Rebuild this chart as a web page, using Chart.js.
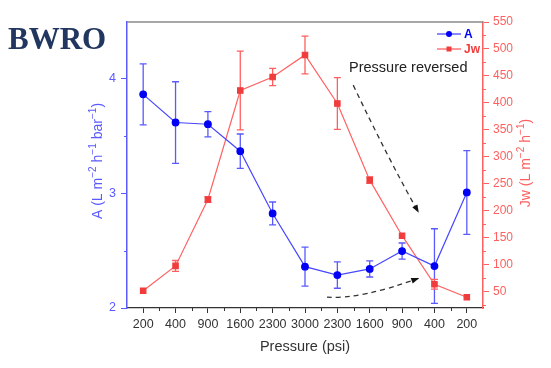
<!DOCTYPE html>
<html><head><meta charset="utf-8">
<script src="https://cdn.jsdelivr.net/npm/chart.js@4"></script>
<style>html,body{margin:0;padding:0;background:#fff;}</style>
</head><body>
<canvas id="c" width="551" height="368"></canvas>
<script>
// ---- data ----
const categories = ['200','400','900','1600','2300','3000','2300','1600','900','400','200'];
const aValues  = [3.86, 3.615, 3.60, 3.365, 2.823, 2.36, 2.287, 2.34, 2.496, 2.365, 3.006];
const aErrors  = [0.265, 0.355, 0.11, 0.15, 0.10, 0.17, 0.115, 0.07, 0.07, 0.325, 0.365];
const jwValues = [52, 98, 221, 423, 448, 489, 399, 257, 154, 64, 40];
const jwErrors = [0, 10, 5, 73, 16, 35, 48, 6, 0, 9, 0];
const aTicks = [2, 3, 4];
const aMinorTicks = [2.5, 3.5];
const jwTicks = [50, 100, 150, 200, 250, 300, 350, 400, 450, 500, 550];
const jwMinorTicks = [25, 75, 125, 175, 225, 275, 325, 375, 425, 475, 525];
const titleText = 'BWRO';
const xTitle = 'Pressure (psi)';
const annotationText = 'Pressure reversed';
// annotation anchors in data coordinates (x = category index, y = Jw value)
const arrowDown = {from: [6.49, 433], ctrl: [7.57, 297], to: [8.5, 198]};
const arrowUp   = {from: [5.68, 40], ctrl: [6.73, 36], to: [8.5, 75]};
const annotationAt = [8.19, 464];

const FONT = '"Liberation Sans", Arial, sans-serif';
const BLUE = '#0000f5', BLUE_LINE = '#4848ff', BLUE_AX = '#5a5aff';
const RED = '#f03c3c', RED_LINE = '#ff6262', RED_AX = '#ff5f5f';
const GREY = '#333333';

function drawRich(ctx, segs, cx, cy, size, color) {
  ctx.save();
  ctx.translate(cx, cy);
  ctx.rotate(-Math.PI / 2);
  ctx.fillStyle = color;
  ctx.textBaseline = 'alphabetic';
  let total = 0;
  segs.forEach(s => { ctx.font = (s.sup ? size * 0.72 : size) + 'px ' + FONT; s.w = ctx.measureText(s.t).width; total += s.w; });
  let x = -total / 2;
  const base = size * 0.36;
  segs.forEach(s => {
    ctx.font = (s.sup ? size * 0.72 : size) + 'px ' + FONT;
    ctx.fillText(s.t, x, s.sup ? base - size * 0.42 : base);
    x += s.w;
  });
  ctx.restore();
}

const errorBars = {
  id: 'errorBars',
  beforeDatasetsDraw(chart) {
    const ctx = chart.ctx, xs = chart.scales.x;
    chart.data.datasets.forEach(ds => {
      const ys = chart.scales[ds.yAxisID];
      ctx.save();
      ctx.strokeStyle = ds.errColor;
      ctx.lineWidth = 1.3;
      ds.data.forEach((v, i) => {
        const e = ds.errors[i];
        if (!e) return;
        const px = xs.getPixelForValue(i);
        const t = ys.getPixelForValue(v + e), b = ys.getPixelForValue(v - e);
        ctx.beginPath();
        ctx.moveTo(px, t); ctx.lineTo(px, b);
        ctx.moveTo(px - 3.5, t); ctx.lineTo(px + 3.5, t);
        ctx.moveTo(px - 3.5, b); ctx.lineTo(px + 3.5, b);
        ctx.stroke();
      });
      ctx.restore();
    });
  }
};

function drawArrow(ctx, chart, def) {
  const xs = chart.scales.x, ys = chart.scales.yJ;
  const P = p => [xs.getPixelForValue(p[0]), ys.getPixelForValue(p[1])];
  const a = P(def.from), c = P(def.ctrl), b = P(def.to);
  ctx.save();
  ctx.strokeStyle = '#333';
  ctx.lineWidth = 1.3;
  ctx.setLineDash([5, 4]);
  ctx.beginPath();
  ctx.moveTo(a[0], a[1]);
  ctx.quadraticCurveTo(c[0], c[1], b[0], b[1]);
  ctx.stroke();
  ctx.setLineDash([]);
  const ang = Math.atan2(b[1] - c[1], b[0] - c[0]);
  ctx.fillStyle = '#111';
  ctx.translate(b[0], b[1]);
  ctx.rotate(ang);
  ctx.beginPath();
  ctx.moveTo(1, 0); ctx.lineTo(-7, -3); ctx.lineTo(-7, 3); ctx.closePath();
  ctx.fill();
  ctx.restore();
}

const decorations = {
  id: 'decorations',
  afterDatasetsDraw(chart) {
    const ctx = chart.ctx;
    drawArrow(ctx, chart, arrowDown);
    drawArrow(ctx, chart, arrowUp);
    const xs = chart.scales.x, ys = chart.scales.yJ;
    ctx.save();
    ctx.font = '14.5px ' + FONT;
    ctx.fillStyle = '#222';
    ctx.textAlign = 'center';
    ctx.textBaseline = 'middle';
    ctx.fillText(annotationText, xs.getPixelForValue(annotationAt[0]), ys.getPixelForValue(annotationAt[1]));
    ctx.restore();
  },
  afterDraw(chart) {
    const ctx = chart.ctx, ca = chart.chartArea;
    const xs = chart.scales.x, yA = chart.scales.yA, yJ = chart.scales.yJ;
    ctx.save();
    // top frame line
    ctx.strokeStyle = '#8a8a8a';
    ctx.lineWidth = 1.6;
    ctx.beginPath(); ctx.moveTo(ca.left, ca.top); ctx.lineTo(ca.right, ca.top); ctx.stroke();
    // minor ticks
    ctx.lineWidth = 1;
    ctx.strokeStyle = BLUE_AX;
    aMinorTicks.forEach(v => { const y = Math.round(yA.getPixelForValue(v)) + 0.5; ctx.beginPath(); ctx.moveTo(ca.left - 3, y); ctx.lineTo(ca.left, y); ctx.stroke(); });
    ctx.strokeStyle = RED_AX;
    jwMinorTicks.forEach(v => { const y = Math.round(yJ.getPixelForValue(v)) + 0.5; ctx.beginPath(); ctx.moveTo(ca.right, y); ctx.lineTo(ca.right + 3, y); ctx.stroke(); });
    ctx.strokeStyle = GREY;
    for (let i = 0; i < categories.length - 1; i++) {
      const x = Math.round(xs.getPixelForValue(i + 0.5)) + 0.5;
      ctx.beginPath(); ctx.moveTo(x, ca.bottom); ctx.lineTo(x, ca.bottom + 3); ctx.stroke();
    }
    // title
    ctx.font = 'bold 31px "Liberation Serif", "Times New Roman", serif';
    ctx.fillStyle = '#22375f';
    ctx.textAlign = 'left';
    ctx.textBaseline = 'alphabetic';
    ctx.fillText(titleText, 8, 49);
    // x axis title
    ctx.font = '14.5px ' + FONT;
    ctx.fillStyle = GREY;
    ctx.textAlign = 'center';
    ctx.textBaseline = 'middle';
    ctx.fillText(xTitle, (ca.left + ca.right) / 2, 347);
    ctx.restore();
    // y axis titles
    const midY = (ca.top + ca.bottom) / 2;
    drawRich(ctx, [{t:'A (L m'},{t:'\u22122',sup:true},{t:' h'},{t:'\u22121',sup:true},{t:' bar'},{t:'\u22121',sup:true},{t:')'}], 97, midY - 4, 14, BLUE_AX);
    drawRich(ctx, [{t:'Jw (L m'},{t:'\u22122',sup:true},{t:' h'},{t:'\u22121',sup:true},{t:')'}], 525, midY - 2, 14, RED_AX);
    // legend
    const items = [
      {label: 'A', line: BLUE_LINE, mk: BLUE, style: 'circle', y: 34},
      {label: 'Jw', line: RED_LINE, mk: RED, style: 'rect', y: 49}
    ];
    ctx.save();
    items.forEach(it => {
      ctx.strokeStyle = it.line; ctx.lineWidth = 1.3;
      ctx.beginPath(); ctx.moveTo(437, it.y); ctx.lineTo(461, it.y); ctx.stroke();
      ctx.fillStyle = it.mk;
      if (it.style === 'circle') { ctx.beginPath(); ctx.arc(449, it.y, 3, 0, Math.PI * 2); ctx.fill(); }
      else { ctx.fillRect(446.5, it.y - 2.5, 5, 5); }
      ctx.font = 'bold 12px ' + FONT;
      ctx.fillStyle = it.mk;
      ctx.textAlign = 'left'; ctx.textBaseline = 'middle';
      ctx.fillText(it.label, 464, it.y + 0.5);
    });
    ctx.restore();
  }
};

new Chart(document.getElementById('c'), {
  type: 'line',
  data: {
    labels: categories,
    datasets: [
      {label: 'A', data: aValues, errors: aErrors, errColor: BLUE_AX, yAxisID: 'yA',
       borderColor: BLUE_LINE, backgroundColor: BLUE, pointBackgroundColor: BLUE, pointBorderColor: BLUE,
       pointStyle: 'circle', pointRadius: 3.3, borderWidth: 1.2, tension: 0},
      {label: 'Jw', data: jwValues, errors: jwErrors, errColor: RED_AX, yAxisID: 'yJ',
       borderColor: RED_LINE, backgroundColor: RED, pointBackgroundColor: RED, pointBorderColor: RED,
       pointStyle: 'rect', pointRadius: 3.8, borderWidth: 1.2, tension: 0}
    ]
  },
  options: {
    responsive: false,
    animation: false,
    layout: {padding: {top: 22, left: 0, right: 0, bottom: 0}},
    plugins: {legend: {display: false}, tooltip: {enabled: false}},
    scales: {
      x: {
        type: 'category', offset: true,
        grid: {drawOnChartArea: false, drawTicks: true, tickLength: 5, tickColor: GREY, offset: false},
        border: {display: true, color: GREY, width: 1.3},
        ticks: {color: GREY, font: {family: FONT, size: 12.5}, padding: 4, maxRotation: 0, autoSkip: false},
        afterFit(s) { s.height = 60; }
      },
      yA: {
        type: 'linear', position: 'left', min: 2, max: 4.49,
        afterBuildTicks(s) { s.ticks = aTicks.map(v => ({value: v})); },
        grid: {drawOnChartArea: false, drawTicks: true, tickLength: 6, tickColor: BLUE_AX},
        border: {display: true, color: BLUE_AX, width: 1.5},
        ticks: {color: BLUE_AX, font: {family: FONT, size: 12.5}, padding: 5},
        afterFit(s) { s.width = 127; }
      },
      yJ: {
        type: 'linear', position: 'right', min: 20, max: 550,
        afterBuildTicks(s) { s.ticks = jwTicks.map(v => ({value: v})); },
        grid: {drawOnChartArea: false, drawTicks: true, tickLength: 6, tickColor: RED_AX},
        border: {display: true, color: RED_AX, width: 1.5},
        ticks: {color: RED_AX, font: {family: FONT, size: 12}, padding: 4},
        afterFit(s) { s.width = 68; }
      }
    }
  },
  plugins: [errorBars, decorations]
});
</script>
</body></html>
